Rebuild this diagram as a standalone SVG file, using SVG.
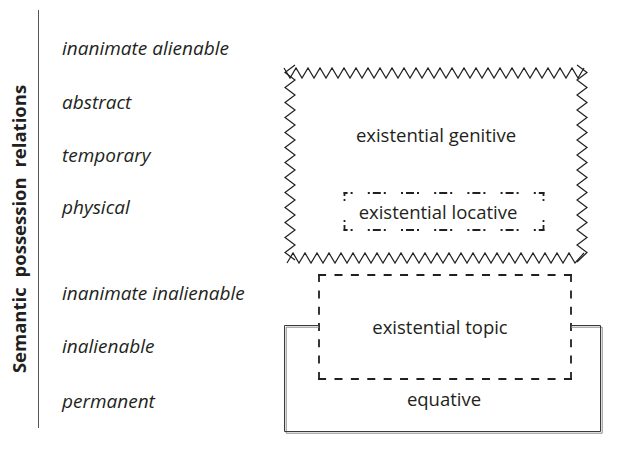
<svg xmlns="http://www.w3.org/2000/svg" width="629" height="454" viewBox="0 0 629 454">
  <style>
    .lbl { font-family: "Open Sans", "Noto Sans", sans-serif; font-style: italic; font-size: 19px; fill: #231f20; }
    .txt { font-family: "Open Sans", "Noto Sans", sans-serif; font-size: 18.5px; fill: #231f20; text-anchor: middle; }
    .title { font-family: "Open Sans", "Noto Sans", sans-serif; font-weight: bold; font-size: 18.5px; word-spacing: 5px; fill: #231f20; text-anchor: middle; }
    .zig { fill: none; stroke: #231f20; stroke-width: 1.2; stroke-linejoin: miter; }
    .dash { fill: none; stroke: #231f20; stroke-width: 1.8; }
    .dd { fill: none; stroke: #231f20; stroke-width: 1.8; stroke-dasharray: 8 3 2 15.2 2 3; stroke-dashoffset: 4; }
    .ddv { fill: none; stroke: #231f20; stroke-width: 1.8; stroke-dasharray: 8 3 2 19 2 3; stroke-dashoffset: 4; }
  </style>

  <!-- axis -->
  <g id="axis">
    <line x1="38.5" y1="10" x2="38.5" y2="428" stroke="#555" stroke-width="1"/>
    <text class="title" transform="translate(26,229) rotate(-90)">Semantic possession relations</text>
  </g>

  <!-- relation labels -->
  <g id="labels">
    <text class="lbl" x="62" y="55">inanimate alienable</text>
    <text class="lbl" x="62" y="109">abstract</text>
    <text class="lbl" x="62" y="162">temporary</text>
    <text class="lbl" x="62" y="214">physical</text>
    <text class="lbl" x="62" y="300">inanimate inalienable</text>
    <text class="lbl" x="62" y="353">inalienable</text>
    <text class="lbl" x="62" y="408">permanent</text>
  </g>

  <!-- existential genitive: zigzag frame -->
  <g id="existential-genitive">
    <polyline class="zig" points="284,68 290,78 296,68 302,78 308,68 314,78 320,68 326,78 332,68 338,78 344,68 350,78 356,68 362,78 368,68 374,78 380,68 386,78 392,68 398,78 404,68 410,78 416,68 422,78 428,68 434,78 440,68 446,78 452,68 458,78 464,68 470,78 476,68 482,78 488,68 494,78 500,68 506,78 512,68 518,78 524,68 530,78 536,68 542,78 548,68 554,78 560,68 566,78 572,68 578,78 584,68"/>
    <polyline class="zig" points="287,263 293,253 299,263 305,253 311,263 317,253 323,263 329,253 335,263 341,253 347,263 353,253 359,263 365,253 371,263 377,253 383,263 389,253 395,263 401,253 407,263 413,253 419,263 425,253 431,263 437,253 443,263 449,253 455,263 461,253 467,263 473,253 479,263 485,253 491,263 497,253 503,263 509,253 515,263 521,253 527,263 533,253 539,263 545,253 551,263 557,253 563,263 569,253 575,263 584,253"/>
    <polyline class="zig" points="295,65 285,72.5 295,80 285,87.5 295,95 285,102.5 295,110 285,117.5 295,125 285,132.5 295,140 285,147.5 295,155 285,162.5 295,170 285,177.5 295,185 285,192.5 295,200 285,207.5 295,215 285,222.5 295,230 285,237.5 295,245 285,252.5 295,260"/>
    <polyline class="zig" points="577,65 587,72.5 577,80 587,87.5 577,95 587,102.5 577,110 587,117.5 577,125 587,132.5 577,140 587,147.5 577,155 587,162.5 577,170 587,177.5 577,185 587,192.5 577,200 587,207.5 577,215 587,222.5 577,230 587,237.5 577,245 587,252.5 577,262"/>
    <text class="txt" x="436" y="142">existential genitive</text>
  </g>

  <!-- existential locative: dash-dot frame -->
  <g id="existential-locative">
    <line class="dd" x1="343.6" y1="193" x2="544.4" y2="193"/>
    <line class="dd" x1="343.6" y1="230" x2="544.4" y2="230"/>
    <line class="ddv" x1="344.5" y1="192.1" x2="344.5" y2="230.9"/>
    <line class="ddv" x1="543.5" y1="192.1" x2="543.5" y2="230.9"/>
    <text class="txt" x="438" y="219">existential locative</text>
  </g>

  <!-- existential topic: dashed frame -->
  <g id="existential-topic">
    <line class="dash" x1="318.1" y1="275" x2="571.9" y2="275" stroke-dasharray="8 8.39"/>
    <line class="dash" x1="318.1" y1="379" x2="571.9" y2="379" stroke-dasharray="8 8.39"/>
    <line class="dash" x1="319" y1="274.1" x2="319" y2="379.9" stroke-dasharray="8 8.3"/>
    <line class="dash" x1="571" y1="274.1" x2="571" y2="379.9" stroke-dasharray="8 8.3"/>
    <text class="txt" x="440" y="334">existential topic</text>
  </g>

  <!-- equative: double-line frame open at the top -->
  <g id="equative">
    <path d="M319,327.2 H286.2 V433.2 H602.2 V327.2 H571" fill="none" stroke="#8a8a8a" stroke-width="1"/>
    <path d="M319,325.5 H284.5 V431.5 H600.5 V325.5 H571" fill="none" stroke="#3a3a3a" stroke-width="1"/>
    <text class="txt" x="444" y="406">equative</text>
  </g>
</svg>
